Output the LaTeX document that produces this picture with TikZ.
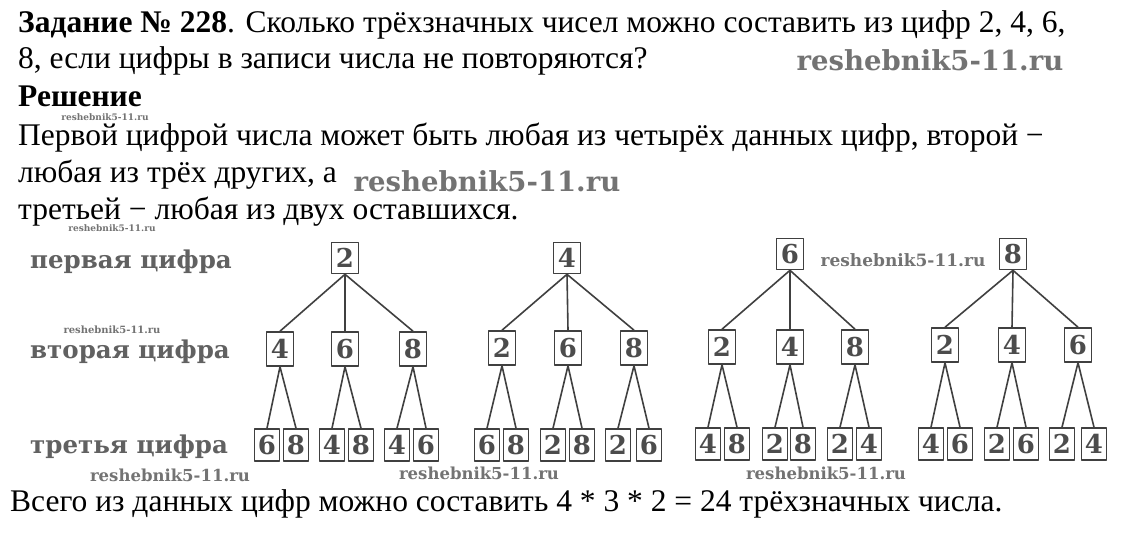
\documentclass[tikz,border=0pt]{standalone}
\usepackage{fontspec}
\setmainfont{Liberation Serif}
\newfontfamily\schoolfont{DejaVu Serif}
\tikzset{
  dgt/.style={draw=black!75, line width=1.6pt, inner sep=0pt, minimum width=27pt,
    minimum height=31pt, text=black!70, font=\schoolfont\bfseries\fontsize{26}{26}\selectfont},
  leaf/.style={dgt, minimum width=25pt, minimum height=32pt},
  rowname/.style={anchor=base west, inner sep=0pt, text=black!62,
    font=\schoolfont\bfseries\fontsize{24.5}{25}\selectfont},
  wmark/.style={inner sep=0pt, text=black!55, font=\schoolfont\bfseries\fontsize{#1}{#1}\selectfont},
  edge/.style={draw=black!75, line width=1.6pt},
  txt/.style={anchor=base west, inner sep=0pt, font=\fontsize{31.5}{32}\selectfont}
}
\begin{document}
\begin{tikzpicture}[x=1pt, y=-1pt, line join=round]
\useasboundingbox[fill=white] (0,0) rectangle (1123,552);
% text of the task
\node[txt] (task1) at (18,32) {{\bfseries Задание № 228}. Сколько трёхзначных чисел можно составить из цифр 2, 4, 6,};
\node[txt] (task2) at (18,68) {8, если цифры в записи числа не повторяются?};
\node[txt] (sol) at (18,106) {\bfseries Решение};
\node[txt] (sol1) at (18,145) {Первой цифрой числа может быть любая из четырёх данных цифр, второй −};
\node[txt] (sol2) at (18,182) {любая из трёх других, а};
\node[txt] (sol3) at (18,219) {третьей − любая из двух оставшихся.};
\node[txt] (total) at (10,511) {Всего из данных цифр можно составить 4 * 3 * 2 = 24 трёхзначных числа.};
% watermarks
\node[wmark=27.5] (wm1) at (930,60) {reshebnik5-11.ru};
\node[wmark=9] (wm2) at (105,117) {reshebnik5-11.ru};
\node[wmark=27.5] (wm3) at (487,181) {reshebnik5-11.ru};
\node[wmark=9] (wm4) at (112,228) {reshebnik5-11.ru};
\node[wmark=17] (wm5) at (903,260) {reshebnik5-11.ru};
\node[wmark=10] (wm6) at (112,330) {reshebnik5-11.ru};
\node[wmark=16.5] (wm7) at (170,475) {reshebnik5-11.ru};
\node[wmark=16.5] (wm8) at (479,473) {reshebnik5-11.ru};
\node[wmark=16.5] (wm9) at (826,473) {reshebnik5-11.ru};
% row names
\node[rowname] (r1) at (30,268) {первая цифра};
\node[rowname] (r2) at (30,358) {вторая цифра};
\node[rowname] (r3) at (30,453) {третья цифра};
% first digit
\node[dgt] (d2) at (345,258) {2};
\node[dgt] (d4) at (567,258) {4};
\node[dgt] (d6) at (790,254) {6};
\node[dgt] (d8) at (1013,254) {8};
% second digit
\node[dgt, minimum height=34pt] (d24) at (280,349) {4};
\node[dgt, minimum height=34pt] (d26) at (345,349) {6};
\node[dgt, minimum height=34pt] (d28) at (413,349) {8};
\node[dgt, minimum height=34pt] (d42) at (502,348) {2};
\node[dgt, minimum height=34pt] (d46) at (568,348) {6};
\node[dgt, minimum height=34pt] (d48) at (634,348) {8};
\node[dgt, minimum height=34pt] (d62) at (722,347) {2};
\node[dgt, minimum height=34pt] (d64) at (790,347) {4};
\node[dgt, minimum height=34pt] (d68) at (855,347) {8};
\node[dgt, minimum height=34pt] (d82) at (945,345) {2};
\node[dgt, minimum height=34pt] (d84) at (1012,345) {4};
\node[dgt, minimum height=34pt] (d86) at (1078,345) {6};
% third digit
\node[leaf] (d246) at (267,445) {6};
\node[leaf] (d248) at (296,445) {8};
\node[leaf] (d264) at (332,445) {4};
\node[leaf] (d268) at (361,445) {8};
\node[leaf] (d284) at (397,445) {4};
\node[leaf] (d286) at (426,445) {6};
\node[leaf] (d426) at (487,445) {6};
\node[leaf] (d428) at (516,445) {8};
\node[leaf] (d462) at (553,445) {2};
\node[leaf] (d468) at (582,445) {8};
\node[leaf] (d482) at (618,445) {2};
\node[leaf] (d486) at (649,445) {6};
\node[leaf] (d624) at (708,444) {4};
\node[leaf] (d628) at (737,444) {8};
\node[leaf] (d642) at (775,444) {2};
\node[leaf] (d648) at (803,444) {8};
\node[leaf] (d682) at (840,444) {2};
\node[leaf] (d684) at (869,444) {4};
\node[leaf] (d824) at (931,444) {4};
\node[leaf] (d826) at (960,444) {6};
\node[leaf] (d842) at (997,444) {2};
\node[leaf] (d846) at (1026,444) {6};
\node[leaf] (d862) at (1062,444) {2};
\node[leaf] (d864) at (1094,444) {4};
% edges
\draw[edge] (d2.south)--(d24.north) (d2.south)--(d26.north) (d2.south)--(d28.north);
\draw[edge] (d4.south)--(d42.north) (d4.south)--(d46.north) (d4.south)--(d48.north);
\draw[edge] (d6.south)--(d62.north) (d6.south)--(d64.north) (d6.south)--(d68.north);
\draw[edge] (d8.south)--(d82.north) (d8.south)--(d84.north) (d8.south)--(d86.north);
\draw[edge] (d24.south)--(d246.north) (d24.south)--(d248.north);
\draw[edge] (d26.south)--(d264.north) (d26.south)--(d268.north);
\draw[edge] (d28.south)--(d284.north) (d28.south)--(d286.north);
\draw[edge] (d42.south)--(d426.north) (d42.south)--(d428.north);
\draw[edge] (d46.south)--(d462.north) (d46.south)--(d468.north);
\draw[edge] (d48.south)--(d482.north) (d48.south)--(d486.north);
\draw[edge] (d62.south)--(d624.north) (d62.south)--(d628.north);
\draw[edge] (d64.south)--(d642.north) (d64.south)--(d648.north);
\draw[edge] (d68.south)--(d682.north) (d68.south)--(d684.north);
\draw[edge] (d82.south)--(d824.north) (d82.south)--(d826.north);
\draw[edge] (d84.south)--(d842.north) (d84.south)--(d846.north);
\draw[edge] (d86.south)--(d862.north) (d86.south)--(d864.north);
\end{tikzpicture}
\end{document}
